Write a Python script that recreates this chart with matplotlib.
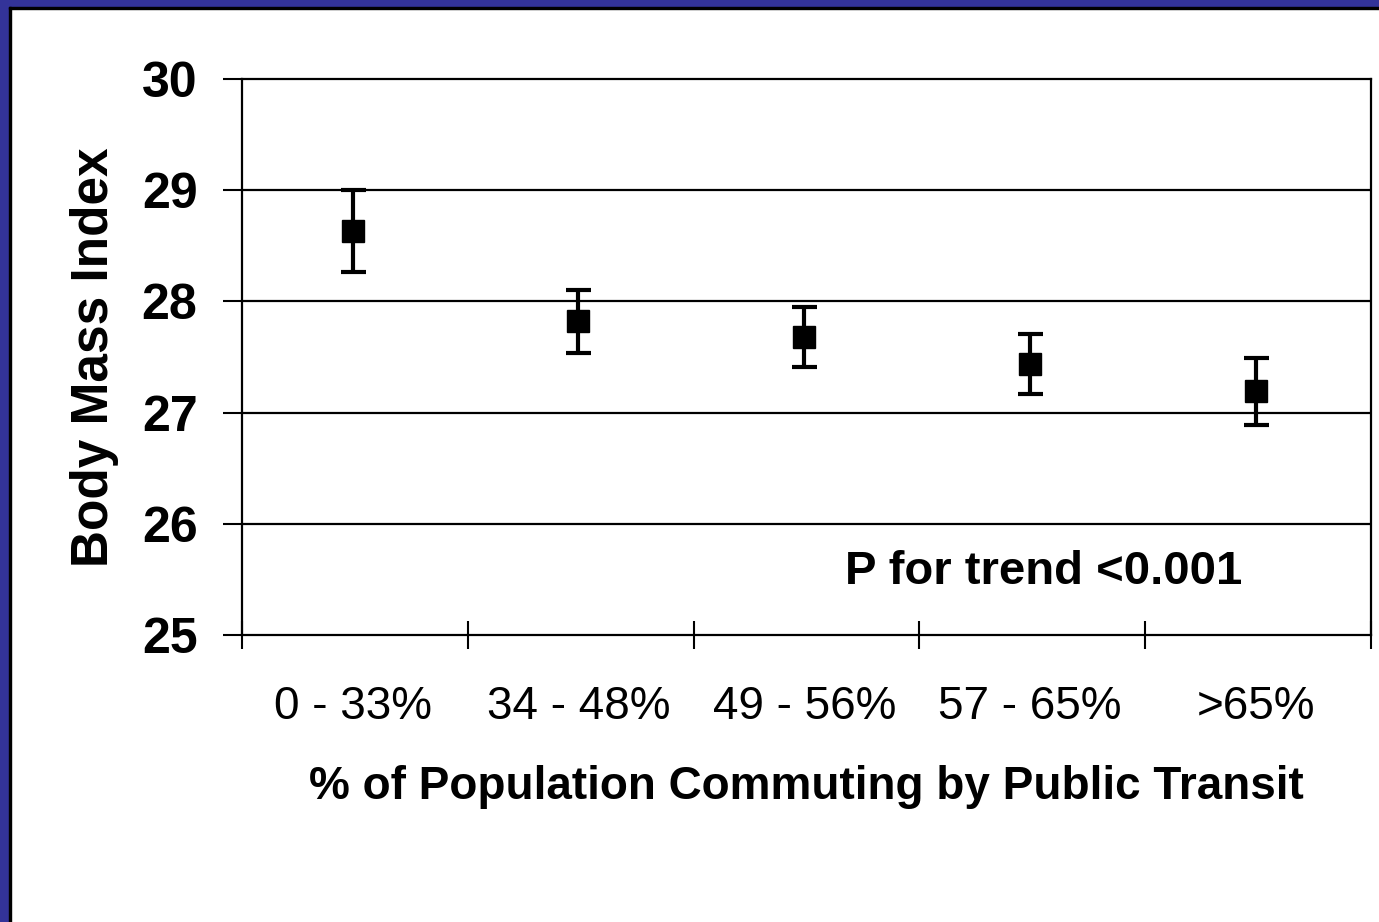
import matplotlib.pyplot as plt
from matplotlib.patches import Rectangle

categories = ['0 - 33%', '34 - 48%', '49 - 56%', '57 - 65%', '>65%']
bmi_mean = [28.63, 27.82, 27.68, 27.44, 27.19]
bmi_err = [0.37, 0.28, 0.27, 0.27, 0.30]
y_ticks = [25, 26, 27, 28, 29, 30]

plt.rcParams['font.family'] = ['Liberation Sans', 'DejaVu Sans']

fig = plt.figure(figsize=(13.79, 9.22), dpi=100)
fig.patch.set_facecolor('white')

# blue slide frame (left and top only)
blue = '#333399'
fig.patches.append(Rectangle((0, 0), 9 / 1379, 1, transform=fig.transFigure, color=blue, zorder=0))
fig.patches.append(Rectangle((0, 1 - 7 / 922), 1, 7 / 922, transform=fig.transFigure, color=blue, zorder=0))
fig.patches.append(Rectangle((9 / 1379, 0), 2 / 1379, 1 - 7 / 922, transform=fig.transFigure, color='black', zorder=0))
fig.patches.append(Rectangle((9 / 1379, 1 - 9 / 922), 1, 2 / 922, transform=fig.transFigure, color='black', zorder=0))

ax = fig.add_axes([242 / 1379, 1 - 635 / 922, (1371 - 242) / 1379, (635 - 79) / 922])

x = [i + 0.49 for i in range(len(categories))]
ax.errorbar(x, bmi_mean, yerr=bmi_err, fmt='s', color='black', markersize=16,
            elinewidth=3, capsize=9, capthick=3, zorder=3)

ax.set_xlim(0, len(categories))
ax.set_ylim(25, 30)
ax.set_yticks(y_ticks)
ax.set_yticklabels([str(v) for v in y_ticks], fontsize=36, fontweight='bold')
ax.set_xticks(range(len(categories) + 1))
ax.set_xticklabels([])
ax.set_xticks(x, minor=True)
ax.set_xticklabels(categories, minor=True, fontsize=33)
ax.tick_params(axis='x', which='minor', length=0, pad=36)
ax.tick_params(axis='x', which='major', direction='inout', length=19.5, width=1.5)
ax.tick_params(axis='y', direction='out', length=14, width=1.5, pad=18)

for y in y_ticks[1:-1]:
    ax.axhline(y, color='black', linewidth=1.6, zorder=1)
for s in ax.spines.values():
    s.set_linewidth(1.6)
    s.set_color('black')

ax.set_ylabel('Body Mass Index', fontsize=37, fontweight='bold', labelpad=16)
ax.set_xlabel('% of Population Commuting by Public Transit', fontsize=33,
              fontweight='bold', labelpad=26)

ax.text(2.67, 25.57, 'P for trend <0.001', fontsize=34, fontweight='bold',
        ha='left', va='center')

fig.savefig('out.png', dpi=100)
